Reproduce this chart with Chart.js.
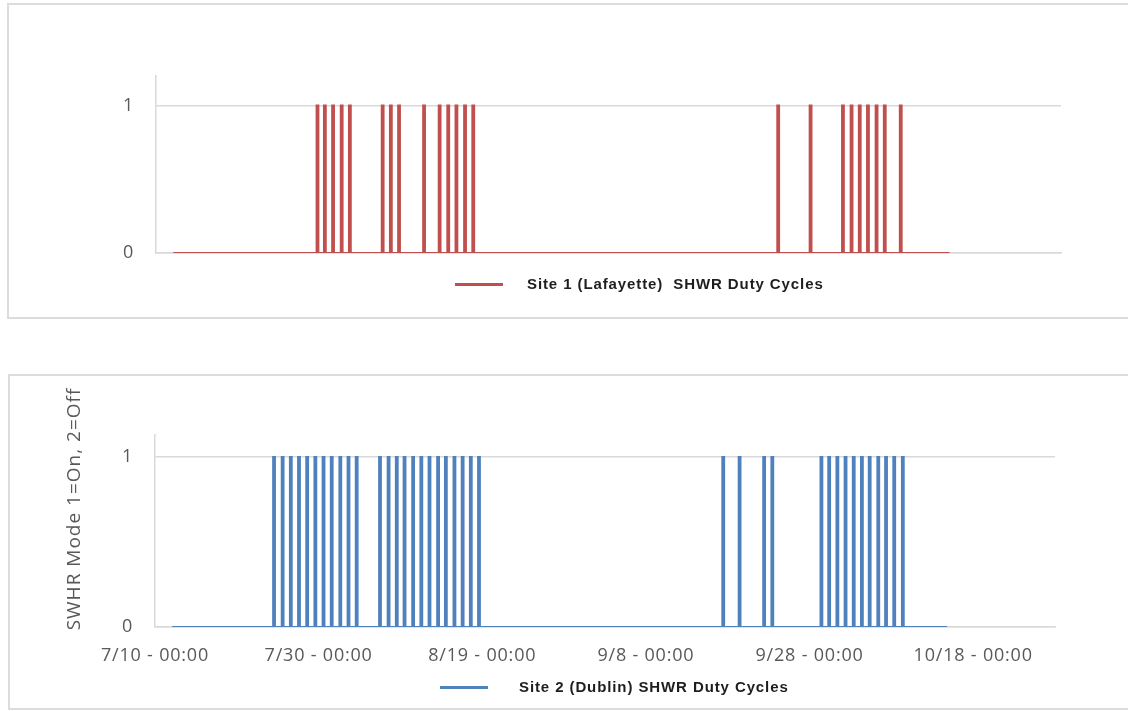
<!DOCTYPE html>
<html>
<head>
<meta charset="utf-8">
<script src="https://cdn.jsdelivr.net/npm/chart.js@4/dist/chart.umd.min.js"></script>
<style>
  html, body { margin: 0; padding: 0; background: #fff; }
  body { width: 1128px; height: 711px; position: relative; overflow: hidden; }
  .box { position: absolute; border: 2px solid #dcdcdc; border-right: none; box-sizing: border-box; }
  canvas { position: absolute; left: 0; }
  .legend { position: absolute; font: bold 15px "Liberation Sans", Arial, sans-serif; letter-spacing: 0.9px; color: #1e1e1e; white-space: pre; }
  .legend span.line { position: absolute; top: 8px; height: 3px; width: 48px; }
</style>
</head>
<body>
<div class="box" style="left:7px;top:3px;width:1125px;height:316px"></div>
<div class="box" style="left:8px;top:374px;width:1125px;height:336px"></div>
<canvas id="chart-site1" width="1128" height="320" style="top:0"></canvas>
<canvas id="chart-site2" width="1128" height="339" style="top:372px"></canvas>
<div class="legend" style="left:455px;top:275px"><span class="line" style="left:0;background:#c0504d"></span><span style="position:absolute;left:72px">Site 1 (Lafayette)  SHWR Duty Cycles</span></div>
<div class="legend" style="left:440px;top:678px"><span class="line" style="left:0;background:#4f81bd"></span><span style="position:absolute;left:79px">Site 2 (Dublin) SHWR Duty Cycles</span></div>
<script>
'use strict';

// days after 7/10 00:00 where each duty cycle turns on
const site1On = [19.7, 20.6, 21.6, 22.65, 23.65, 27.65, 28.65, 29.65, 32.7, 34.6, 35.65, 36.65, 37.7, 38.7,
  75.9, 79.85, 83.8, 84.85, 85.85, 86.85, 87.9, 88.9, 90.85];
const site2On = [14.55, 15.6, 16.6, 17.6, 18.6, 19.6, 20.6, 21.6, 22.65, 23.65, 24.65,
  27.5, 28.55, 29.55, 30.5, 31.55, 32.55, 33.55, 34.6, 35.55, 36.6, 37.6, 38.6, 39.6,
  69.45, 71.45, 74.45, 75.45, 81.45, 82.4, 83.4, 84.4, 85.4, 86.4, 87.35, 88.4, 89.35, 90.35, 91.4];
const seriesStart = 2.1;
const seriesEnd = 96.8;
const onLength = 0.22;

const xTickValues = [0, 20, 40, 60, 80, 100];
const xTickLabels = ['7/10 - 00:00', '7/30 - 00:00', '8/19 - 00:00', '9/8 - 00:00', '9/28 - 00:00', '10/18 - 00:00'];
const yTickValues = [0, 1];
const yTitleText = 'SWHR Mode 1=On, 2=Off';

const gridColor = '#d9d9d9';
const textColor = '#595959';
const tickFont = { family: '"Open Sans", sans-serif', size: 18 };

// Build the square pulses from the on times
const buildPulses = (onTimes) => {
  const points = [{ x: seriesStart, y: 0 }];
  onTimes.forEach(t => {
    const a = t - onLength / 2, b = t + onLength / 2;
    points.push({ x: a, y: 0 }, { x: a, y: 1 }, { x: b, y: 1 }, { x: b, y: 0 });
  });
  points.push({ x: seriesEnd, y: 0 });
  return points;
};

// Wider text spacing for the axis labels
const spacingPlugin = {
  id: 'spacing',
  beforeDraw: (chart) => { chart.ctx.letterSpacing = '0.8px'; },
};

// Vertical axis title, placed like the original (a bit above the axis middle)
const yTitlePlugin = {
  id: 'yTitle',
  afterDraw: (chart, args, opts) => {
    if (!opts.text) return;
    const ctx = chart.ctx;
    ctx.save();
    ctx.letterSpacing = '1px';
    ctx.font = '19px "Open Sans", sans-serif';
    ctx.fillStyle = textColor;
    ctx.textAlign = 'center';
    ctx.textBaseline = 'middle';
    ctx.translate(opts.x, opts.y);
    ctx.rotate(-Math.PI / 2);
    ctx.fillText(opts.text, 0, 0);
    ctx.restore();
  },
};

const makeChart = (canvas, points, color, cfg) => {
  return new Chart(canvas.getContext('2d'), {
    type: 'line',
    data: {
      datasets: [{
        data: points,
        borderColor: color,
        backgroundColor: color,
        borderWidth: 2,
        pointRadius: 0,
        tension: 0,
      }],
    },
    plugins: [spacingPlugin, yTitlePlugin],
    options: {
      responsive: false,
      animation: false,
      layout: { padding: cfg.padding },
      scales: {
        x: {
          type: 'linear',
          min: 0,
          max: cfg.xMax,
          afterBuildTicks: (scale) => { scale.ticks = xTickValues.map(v => ({ value: v })); },
          afterFit: (scale) => { scale.height = cfg.xHeight; },
          grid: { display: false },
          border: { display: true, color: gridColor, width: 1.5 },
          ticks: {
            display: cfg.showXTicks,
            color: textColor,
            font: tickFont,
            padding: 10,
            maxRotation: 0,
            autoSkip: false,
            callback: (value) => xTickLabels[xTickValues.indexOf(value)],
          },
        },
        y: {
          min: 0,
          max: cfg.yMax,
          afterBuildTicks: (scale) => { scale.ticks = yTickValues.map(v => ({ value: v })); },
          afterFit: (scale) => { scale.width = cfg.yWidth; },
          grid: { color: gridColor, lineWidth: 1.5, drawTicks: false },
          border: { display: true, color: gridColor, width: 1.5 },
          ticks: { color: textColor, font: tickFont, padding: 22 },
        },
      },
      plugins: {
        legend: { display: false },
        tooltip: { enabled: false },
        yTitle: cfg.yTitle || {},
      },
    },
  });
};

makeChart(document.querySelector('#chart-site1'), buildPulses(site1On), '#c0504d', {
  padding: { top: 76, right: 67, left: 0, bottom: 0 },
  xMax: 110.4,
  yMax: 1.2,
  xHeight: 67,
  yWidth: 156,
  showXTicks: false,
});

makeChart(document.querySelector('#chart-site2'), buildPulses(site2On), '#4f81bd', {
  padding: { top: 63, right: 73, left: 0, bottom: 0 },
  xMax: 110,
  yMax: 1.13,
  xHeight: 84,
  yWidth: 155,
  showXTicks: true,
  yTitle: { text: yTitleText, x: 75, y: 137 },
});
</script>
</body>
</html>
